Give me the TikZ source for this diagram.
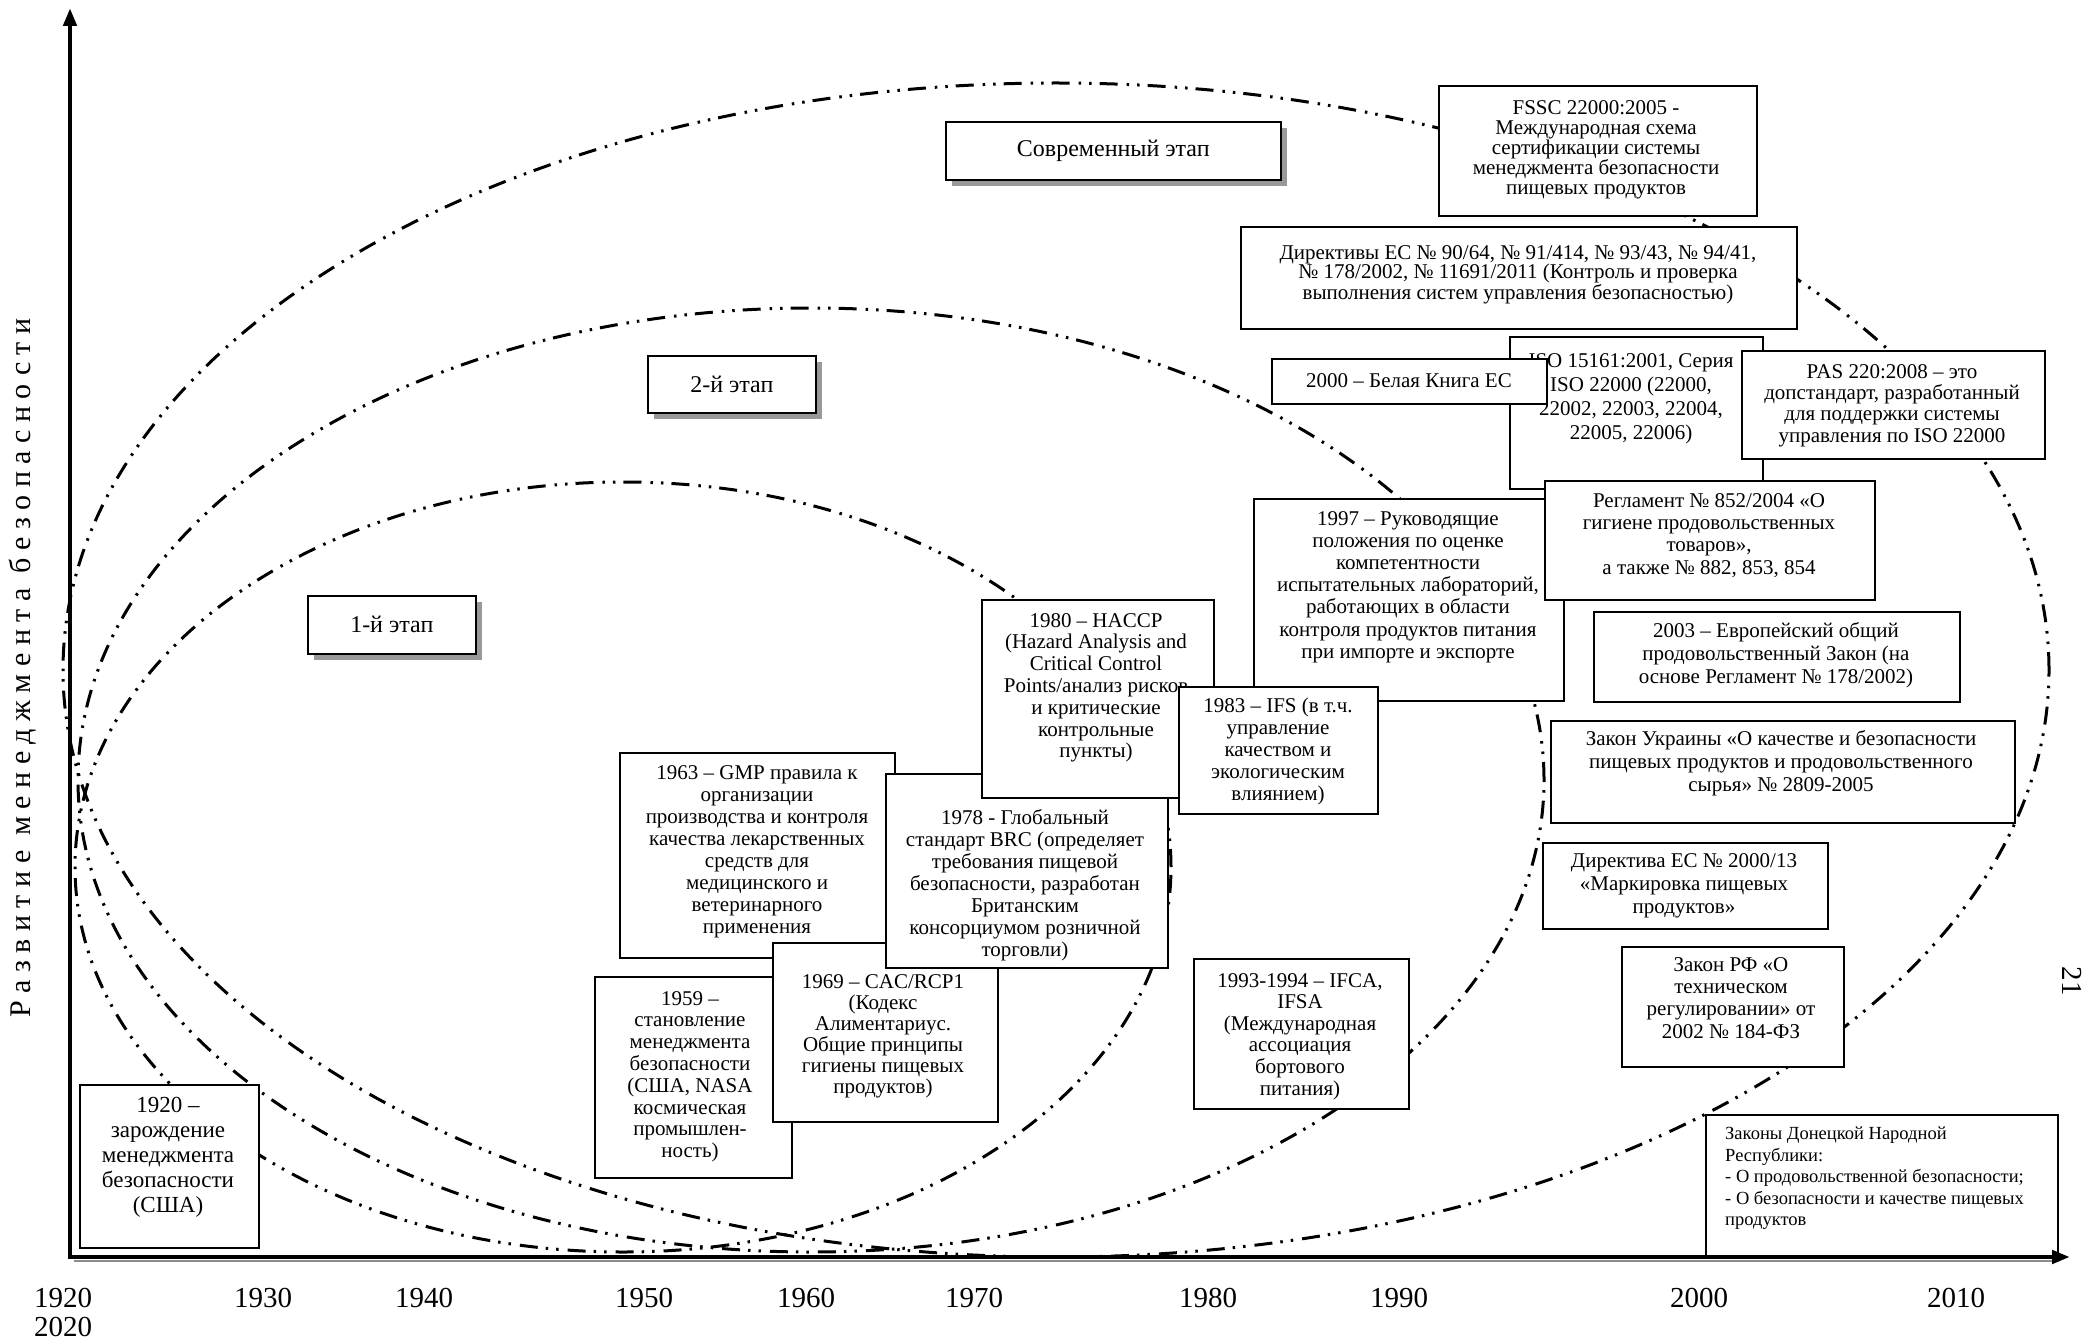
\documentclass[tikz,border=0pt]{standalone}
\usepackage{fontspec}
\setmainfont{Liberation Serif}
\newfontfamily\ylabfont[LetterSpace=25]{Liberation Serif}
\usetikzlibrary{arrows.meta,shadows}
\begin{document}
\begin{tikzpicture}[x=1pt,y=-1pt,
  stageline/.style={line width=3pt, dash pattern=on 18pt off 8pt on 2.5pt off 8pt on 2.5pt off 9pt},
  axisline/.style={line width=4.5pt, -{Triangle[length=18pt,width=13pt]}},
  box/.style={draw, line width=1.6pt, fill=white, inner sep=0pt, anchor=north west},
  stagebox/.style={box, drop shadow={shadow xshift=6pt, shadow yshift=-6pt, fill=black!40, opacity=1}, font=\fontsize{24}{26}\selectfont},
  tx/.style={anchor=north, inner sep=0pt, align=center, font=\fontsize{21}{#1}\selectfont, execute at begin node=\strut},
  year/.style={font=\fontsize{29}{31}\selectfont, inner sep=0pt},
]
\useasboundingbox (0,0) rectangle (2093,1340);

% stage ellipses
\draw[stageline] (623,867) ellipse (548pt and 385pt);
\draw[stageline] (811,780) ellipse (733pt and 472pt);
\draw[stageline] (1056,670) ellipse (993pt and 587pt);

% stage labels
\node[stagebox, minimum width=335pt, minimum height=58pt] (modern) at (945,121) {Современный этап};
\node[stagebox, minimum width=168pt, minimum height=57pt] (stage2) at (647,355) {2-й этап};
\node[stagebox, minimum width=168pt, minimum height=58pt] (stage1) at (307,595) {1-й этап};

% right-hand boxes
\node[box, minimum width=318pt, minimum height=130pt] (fssc) at (1438,85) {};
\node[tx=20] (fssc-t) at (1596,100) {FSSC 22000:2005 -\\Международная схема\\сертификации системы\\менеджмента безопасности\\пищевых продуктов};

\node[box, minimum width=556pt, minimum height=102pt] (direc) at (1240,226) {};
\node[tx=19.5] (direc-t) at (1518,245) {Директивы ЕС № 90/64, № 91/414, № 93/43, № 94/41,\\№ 178/2002, № 11691/2011 (Контроль и проверка\\выполнения систем управления безопасностью)};

\node[box, minimum width=253pt, minimum height=152pt] (iso) at (1509,336) {};
\node[tx=24] (iso-t) at (1631,353) {ISO 15161:2001, Серия\\ISO 22000 (22000,\\22002, 22003, 22004,\\22005, 22006)};

\node[box, minimum width=275pt, minimum height=45pt] (belaya) at (1271,358) {};
\node[tx=21] (belaya-t) at (1409,373) {2000 – Белая Книга ЕС};

\node[box, minimum width=303pt, minimum height=108pt] (pas) at (1741,350) {};
\node[tx=21.3] (pas-t) at (1892,364) {PAS 220:2008 – это\\допстандарт, разработанный\\для поддержки системы\\управления по ISO 22000};

\node[box, minimum width=310pt, minimum height=202pt] (y1997) at (1253,498) {};
\node[tx=22.2] (y1997-t) at (1408,511) {1997 – Руководящие\\положения по оценке\\компетентности\\испытательных лабораторий,\\работающих в области\\контроля продуктов питания\\при импорте и экспорте};

\node[box, minimum width=330pt, minimum height=119pt] (regl) at (1544,480) {};
\node[tx=22.3] (regl-t) at (1709,493) {Регламент № 852/2004 «О\\гигиене продовольственных\\товаров»,\\а также № 882, 853, 854};

\node[box, minimum width=366pt, minimum height=90pt] (y2003) at (1593,611) {};
\node[tx=23] (y2003-t) at (1776,622) {2003 – Европейский общий\\продовольственный Закон (на\\основе Регламент № 178/2002)};

\node[box, minimum width=464pt, minimum height=102pt] (ukr) at (1550,720) {};
\node[tx=23] (ukr-t) at (1781,730) {Закон Украины «О качестве и безопасности\\пищевых продуктов и продовольственного\\сырья» № 2809-2005};

\node[box, minimum width=285pt, minimum height=86pt] (dir13) at (1542,842) {};
\node[tx=23] (dir13-t) at (1684,853) {Директива ЕС № 2000/13\\«Маркировка пищевых\\продуктов»};

\node[box, minimum width=222pt, minimum height=120pt] (rf) at (1621,946) {};
\node[tx=22.3] (rf-t) at (1731,957) {Закон РФ «О\\техническом\\регулировании» от\\2002 № 184-ФЗ};

\node[box, minimum width=352pt, minimum height=143pt] (dnr) at (1705,1114) {};
\node[anchor=north west, inner sep=0pt, align=left, font=\fontsize{18.5}{21.5}\selectfont, execute at begin node=\strut] (dnr-t) at (1725,1127) {Законы Донецкой Народной\\Республики:\\- О продовольственной безопасности;\\- О безопасности и качестве пищевых\\продуктов};

% central and left boxes
\node[box, minimum width=197pt, minimum height=201pt] (y1959) at (594,976) {};
\node[tx=21.8] (y1959-t) at (690,991) {1959 –\\становление\\менеджмента\\безопасности\\(США, NASA\\космическая\\промышлен-\\ность)};

\node[box, minimum width=275pt, minimum height=205pt] (gmp) at (619,752) {};
\node[tx=22] (gmp-t) at (757,765) {1963 – GMP правила к\\организации\\производства и контроля\\качества лекарственных\\средств для\\медицинского и\\ветеринарного\\применения};

\node[box, minimum width=225pt, minimum height=179pt] (cac) at (772,942) {};
\node[tx=21] (cac-t) at (883,974) {1969 – CAC/RCP1\\(Кодекс\\Алиментариус.\\Общие принципы\\гигиены пищевых\\продуктов)};

\node[box, minimum width=282pt, minimum height=194pt] (brc) at (885,773) {};
\node[tx=22] (brc-t) at (1025,809) {1978 - Глобальный\\стандарт BRC (определяет\\требования пищевой\\безопасности, разработан\\Британским\\консорциумом розничной\\торговли)};

\node[box, minimum width=232pt, minimum height=198pt] (haccp) at (981,599) {};
\node[tx=21.8] (haccp-t) at (1096,613) {1980 – HACCP\\(Hazard Analysis and\\Critical Control\\Points/анализ рисков\\и критические\\контрольные\\пункты)};

\node[box, minimum width=199pt, minimum height=127pt] (ifs) at (1178,686) {};
\node[tx=22] (ifs-t) at (1278,698) {1983 – IFS (в т.ч.\\управление\\качеством и\\экологическим\\влиянием)};

\node[box, minimum width=215pt, minimum height=150pt] (ifca) at (1193,958) {};
\node[tx=21.6] (ifca-t) at (1300,973) {1993-1994 – IFCA,\\IFSA\\(Международная\\ассоциация\\бортового\\питания)};

\node[box, minimum width=179pt, minimum height=163pt] (y1920) at (79,1084) {};
\node[anchor=north, inner sep=0pt, align=center, font=\fontsize{23}{25}\selectfont, execute at begin node=\strut] (y1920-t) at (168,1097) {1920 –\\зарождение\\менеджмента\\безопасности\\(США)};

% axes
\coordinate (O) at (70,1257);
\coordinate (ytip) at (70,8);
\coordinate (xtip) at (2070,1257);
\coordinate (sh1) at (74,1261);
\coordinate (sh2) at (2052,1261);
\draw[black!45, line width=1.8pt] (sh1) -- (sh2);
\draw[axisline] (O) -- (ytip);
\draw[axisline] ([xshift=-2.25pt]O) -- (xtip);

% year labels
\node[year] (t1920) at (63,1298) {1920};
\node[year] (t2020) at (63,1327) {2020};
\node[year] (t1930) at (263,1298) {1930};
\node[year] (t1940) at (424,1298) {1940};
\node[year] (t1950) at (644,1298) {1950};
\node[year] (t1960) at (806,1298) {1960};
\node[year] (t1970) at (974,1298) {1970};
\node[year] (t1980) at (1208,1298) {1980};
\node[year] (t1990) at (1399,1298) {1990};
\node[year] (t2000) at (1699,1298) {2000};
\node[year] (t2010) at (1956,1298) {2010};

% axis label and page number
\node[rotate=90, inner sep=0pt, font=\ylabfont\fontsize{30}{32}\selectfont] (ylab) at (23,668) {Развитие менеджмента безопасности};
\node[rotate=-90, inner sep=0pt, font=\fontsize{29}{31}\selectfont] (pagenum) at (2072,981) {21};
\end{tikzpicture}
\end{document}
